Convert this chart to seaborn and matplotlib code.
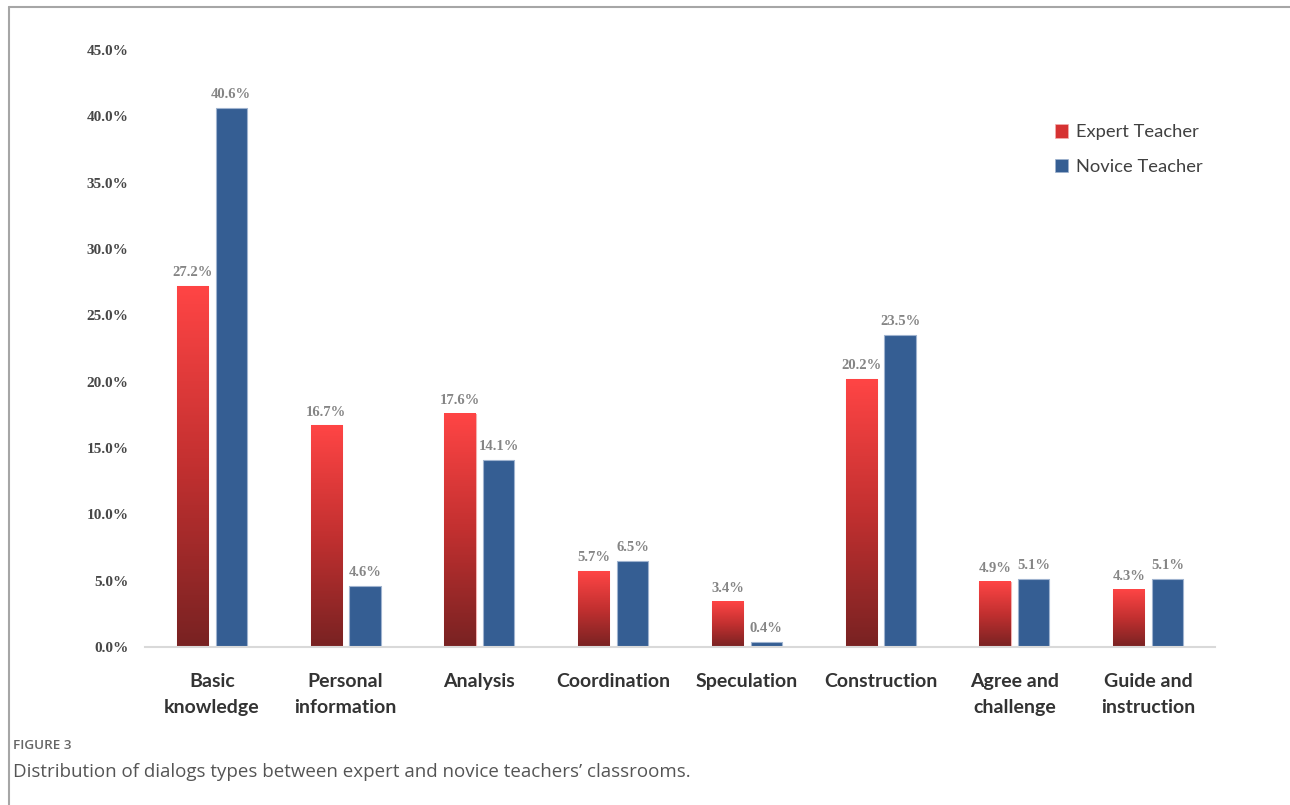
import numpy as np
import pandas as pd
import matplotlib
matplotlib.use("Agg")
import matplotlib.pyplot as plt
import seaborn as sns
from matplotlib.colors import LinearSegmentedColormap
from matplotlib.lines import Line2D
from matplotlib.patches import Rectangle

categories = ["Basic\nknowledge", "Personal\ninformation", "Analysis", "Coordination",
              "Speculation", "Construction", "Agree and\nchallenge", "Guide and\ninstruction"]
expert = [27.2, 16.7, 17.6, 5.7, 3.4, 20.2, 4.9, 4.3]
novice = [40.6, 4.6, 14.1, 6.5, 0.4, 23.5, 5.1, 5.1]
series = ["Expert Teacher", "Novice Teacher"]
yticks = [0, 5, 10, 15, 20, 25, 30, 35, 40, 45]

RED_TOP = "#ff4545"
RED_BOT = "#782222"
BLUE = "#355e93"

df = pd.DataFrame({
    "cat": categories * 2,
    "val": expert + novice,
    "series": [series[0]] * len(categories) + [series[1]] * len(categories),
})

sns.set_theme(style="white")
fig = plt.figure(figsize=(12.9, 8.05), dpi=100)
ax = fig.add_axes([145/1290, 1 - 647/805, (1215-145)/1290, (647-50)/805])

sns.barplot(data=df, x="cat", y="val", hue="series", order=categories,
            hue_order=series, palette=["#cc3333", BLUE], width=0.58, gap=0.19,
            saturation=1, errorbar=None, legend=False, ax=ax)

cmap = LinearSegmentedColormap.from_list("redgrad", [RED_BOT, "#c23030", RED_TOP])
grad = np.linspace(0, 1, 256).reshape(-1, 1)

for ci, cont in enumerate(ax.containers):
    for p, v in zip(cont.patches, expert if ci == 0 else novice):
        x0, w = p.get_x(), p.get_width()
        h = p.get_height()
        if ci == 0:
            p.set_edgecolor("#f3b0b0")
            p.set_linewidth(0.8)
            ax.imshow(grad, extent=(x0, x0 + w, 0, h), origin="lower", aspect="auto",
                      cmap=cmap, zorder=p.get_zorder() + 0.1, interpolation="bicubic")
        else:
            p.set_edgecolor("#9fb3cf")
            p.set_linewidth(0.8)
        ax.annotate(f"{v:.1f}%", (x0 + w / 2, h), xytext=(0, 5), textcoords="offset points",
                    ha="center", va="bottom", fontsize=10.5, color="#858585",
                    family="Liberation Serif", fontweight="bold", zorder=5)

ax.set_xlim(-0.5, 7.5)
ax.set_ylim(0, 45)
ax.set_yticks(yticks)
ax.set_yticklabels([f"{t:.1f}%" for t in yticks], family="Liberation Serif",
                   fontweight="bold", fontsize=11, color="#474747")
ax.set_xticks(range(len(categories)))
ax.set_xticklabels(categories, family="Lato", fontweight="bold", fontsize=14,
                   color="#333333", linespacing=1.6)
ax.tick_params(axis="y", length=0, pad=12)
ax.tick_params(axis="x", length=0, pad=19)
ax.set_xlabel("")
ax.set_ylabel("")
for s in ["top", "right", "left"]:
    ax.spines[s].set_visible(False)
ax.spines["bottom"].set_color("#d9d9d9")
ax.spines["bottom"].set_linewidth(1.5)
ax.grid(False)

handles = [Rectangle((0, 0), 1, 1, facecolor="#d63232", edgecolor="#f3b0b0", lw=0.5),
           Rectangle((0, 0), 1, 1, facecolor=BLUE, edgecolor="#9fb3cf", lw=0.5)]
leg = fig.legend(handles, series, loc="center left", bbox_to_anchor=(1038/1290, 1 - 149.5/805),
                 frameon=False, handlelength=0.75, handleheight=0.75, handletextpad=0.4,
                 labelspacing=1.0, prop={"family": "Lato", "size": 13.2})
for t in leg.get_texts():
    t.set_color("#404040")

fig.add_artist(Line2D([9/1290, 1], [1 - 7/805, 1 - 7/805], color="#a6a6a6", lw=1.5))
fig.add_artist(Line2D([9/1290, 9/1290], [0, 1 - 7/805], color="#a6a6a6", lw=1.5))

fig.text(13/1290, 1 - 745/805, "FIGURE 3", family="Open Sans", fontweight="semibold",
         fontsize=9.7, color="#666666", va="center", ha="left")
fig.text(13/1290, 1 - 772/805,
         "Distribution of dialogs types between expert and novice teachers\u2019 classrooms.",
         family="Open Sans", fontsize=13.5, color="#555555", va="center", ha="left")

fig.savefig("out.png", dpi=100)
